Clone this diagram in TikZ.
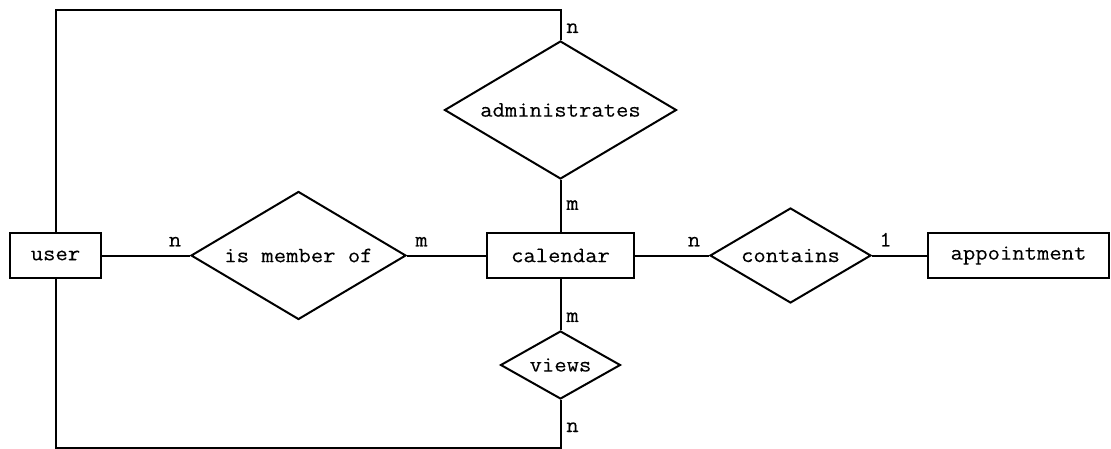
\documentclass[tikz,border=0pt]{standalone}
\usepackage{fontspec}
\newfontfamily\erfont{Latin Modern Mono}[FakeStretch=1.09, FakeBold=0.15]
\usetikzlibrary{shapes.geometric}
\tikzset{
  erfont/.style={font=\erfont\fontsize{22}{25}\selectfont},
  entity/.style={draw, line width=2.4pt, rectangle, inner sep=0pt,
    minimum height=45pt, erfont},
  relation/.style={draw, line width=2pt, diamond, inner sep=0pt, erfont},
  link/.style={line width=2pt},
  card/.style={inner sep=0pt, anchor=base, erfont}
}
\begin{document}
\begin{tikzpicture}[x=1pt, y=-1pt]
  \useasboundingbox (0,0) rectangle (1111,449);

  % entities
  \node[entity, minimum width=91pt]  (user) at (55.5,255.5)   {user};
  \node[entity, minimum width=147pt] (cal)  at (560.5,255.5)  {calendar};
  \node[entity, minimum width=181pt] (app)  at (1018.5,255.5) {appointment};

  % relationships
  \node[relation, minimum width=215pt, minimum height=128pt, aspect=1.68] (ism)  at (298.5,255.5) {is member of};
  \node[relation, minimum width=232pt, minimum height=138pt, aspect=1.68] (adm)  at (560.5,110)   {administrates};
  \node[relation, minimum width=120pt, minimum height=68pt,  aspect=1.76] (view) at (560.5,365)   {views};
  \node[relation, minimum width=161pt, minimum height=95pt,  aspect=1.69] (cont) at (790.5,255.5) {contains};

  % corners of the outer loops
  \coordinate (tl) at (55.5,10.5);
  \coordinate (tr) at (560.5,10.5);
  \coordinate (bl) at (55.5,447.5);
  \coordinate (br) at (560.5,447.5);

  % user -- is member of -- calendar
  \draw[link] (user) -- node[card, pos=1, xshift=-15pt, yshift=9pt] {n} (ism);
  \draw[link] (ism) -- node[card, pos=0, xshift=14.5pt, yshift=9pt] {m} (cal);

  % calendar -- contains -- appointment
  \draw[link] (cal) -- node[card, pos=1, xshift=-15pt, yshift=9pt] {n} (cont);
  \draw[link] (cont) -- node[card, pos=0, xshift=13.5pt, yshift=9pt] {1} (app);

  % user administrates calendar
  \draw[link] (user) -- (tl) -- (tr) -- node[card, pos=1, xshift=12pt, yshift=7pt] {n} (adm);
  \draw[link] (cal) -- node[card, pos=0, xshift=12pt, yshift=22pt] {m} (adm);

  % user views calendar
  \draw[link] (cal) -- node[card, pos=1, xshift=12pt, yshift=8pt] {m} (view);
  \draw[link] (user) -- (bl) -- (br) -- node[card, pos=1, xshift=12pt, yshift=-32pt] {n} (view);
\end{tikzpicture}
\end{document}
